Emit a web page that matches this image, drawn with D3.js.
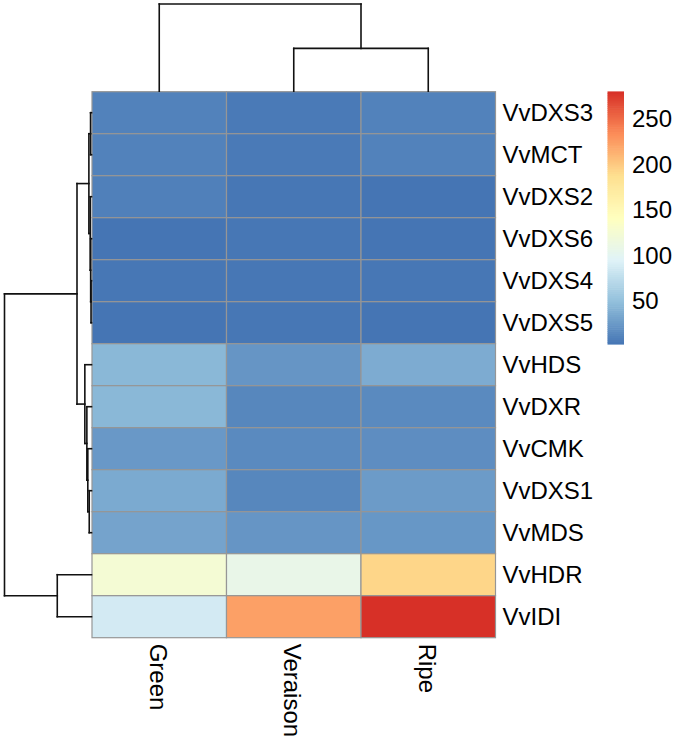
<!DOCTYPE html>
<html>
<head>
<meta charset="utf-8">
<script src="https://cdn.jsdelivr.net/npm/d3@7"></script>
<style>
  html, body { margin: 0; padding: 0; background: #ffffff; }
  svg { display: block; font-family: "Liberation Sans", Arial, Helvetica, sans-serif; }
</style>
</head>
<body>
<svg id="chart" width="675" height="743"></svg>
<script>
// ---------------- DATA ----------------
const columns = ["Green", "Veraison", "Ripe"];
const genes = ["VvDXS3", "VvMCT", "VvDXS2", "VvDXS6", "VvDXS4", "VvDXS5",
               "VvHDS", "VvDXR", "VvCMK", "VvDXS1", "VvMDS", "VvHDR", "VvIDI"];

const greenValues    = [10, 10, 9, 2, 3, 2, 44, 44, 24, 35, 31, 124, 87];
const veraisonValues = [ 5,  5, 3, 3, 3, 3, 22, 13, 15, 13, 22, 108, 223];
const ripeValues     = [10, 10, 2, 2, 3, 2, 36, 15, 17, 26, 23, 193, 280];

// hierarchical clustering merges: [left, right, height]; "#k" = k-th merge
const rowMerges = [
  ["VvDXS3", "VvMCT", 4],
  ["VvDXS4", "VvDXS5", 2],
  ["VvDXS6", "#1", 3.5],
  ["VvDXS2", "#2", 5.5],
  ["#0", "#3", 11],
  ["VvDXS1", "VvMDS", 9.5],
  ["VvCMK", "#5", 15.5],
  ["VvDXR", "#6", 19.5],
  ["VvHDS", "#7", 28],
  ["#4", "#8", 61],
  ["VvHDR", "VvIDI", 144],
  ["#9", "#10", 366]
];
const colMerges = [
  ["Veraison", "Ripe", 160],
  ["Green", "#0", 326]
];

const paletteColors = ["#4575B4", "#91BFDB", "#E0F3F8", "#FFFFBF", "#FEE090", "#FC8D59", "#D73027"];
const legendTicks = [50, 100, 150, 200, 250];

// ---------------- LAYOUT ----------------
const svg = d3.select("#chart");
const heat = { left: 92, right: 495.5, top: 91.7, bottom: 637.7 };
const fontSize = 24;

const x = d3.scaleBand().domain(columns).range([heat.left, heat.right]);
const y = d3.scaleBand().domain(genes).range([heat.top, heat.bottom]);

const seriesByCol = { Green: greenValues, Veraison: veraisonValues, Ripe: ripeValues };
const cells = [];
genes.forEach((g, i) => columns.forEach(c => cells.push({ gene: g, col: c, value: seriesByCol[c][i] })));

const allVals = cells.map(d => d.value);
const vmin = d3.min(allVals), vmax = d3.max(allVals);
const color = d3.scaleLinear()
  .domain(paletteColors.map((_, i) => vmin + i * (vmax - vmin) / (paletteColors.length - 1)))
  .range(paletteColors)
  .interpolate(d3.interpolateRgb);

// cells
svg.append("g").selectAll("rect").data(cells).join("rect")
  .attr("x", d => x(d.col))
  .attr("y", d => y(d.gene))
  .attr("width", x.bandwidth())
  .attr("height", y.bandwidth())
  .attr("fill", d => color(d.value))
  .attr("stroke", "#969696")
  .attr("stroke-width", 1.2);

// row labels
svg.append("g").selectAll("text").data(genes).join("text")
  .attr("x", heat.right + 7)
  .attr("y", d => y(d) + y.bandwidth() / 2)
  .attr("dominant-baseline", "central")
  .attr("font-size", fontSize)
  .attr("fill", "#000")
  .text(d => d);

// column labels (rotated)
svg.append("g").selectAll("text").data(columns).join("text")
  .attr("transform", d => `translate(${x(d) + x.bandwidth() / 2 - 1},${heat.bottom + 6}) rotate(90)`)
  .attr("dominant-baseline", "central")
  .attr("font-size", fontSize)
  .attr("fill", "#000")
  .text(d => d);

// ---------------- DENDROGRAMS ----------------
function buildDendro(merges, leafPos) {
  const nodes = [];
  const segs = [];
  const get = k => k.startsWith("#") ? nodes[+k.slice(1)] : { pos: leafPos(k), h: 0 };
  merges.forEach(([a, b, h]) => {
    const A = get(a), B = get(b);
    segs.push([A.pos, A.h, A.pos, h], [A.pos, h, B.pos, h], [B.pos, h, B.pos, B.h]);
    nodes.push({ pos: (A.pos + B.pos) / 2, h: h });
  });
  return segs;
}

// row dendrogram (left)
const rowH = d3.scaleLinear().domain([0, d3.max(rowMerges, d => d[2])]).range([heat.left - 0.5, 4.5]);
const rowSegs = buildDendro(rowMerges, g => y(g) + y.bandwidth() / 2);
svg.append("g").selectAll("line").data(rowSegs).join("line")
  .attr("x1", d => rowH(d[1])).attr("y1", d => d[0])
  .attr("x2", d => rowH(d[3])).attr("y2", d => d[2])
  .attr("stroke", "#111").attr("stroke-width", 1.6).attr("stroke-linecap", "square");

// column dendrogram (top)
const colH = d3.scaleLinear().domain([0, d3.max(colMerges, d => d[2])]).range([heat.top - 0.5, 4]);
const colSegs = buildDendro(colMerges, c => x(c) + x.bandwidth() / 2);
svg.append("g").selectAll("line").data(colSegs).join("line")
  .attr("x1", d => d[0]).attr("y1", d => colH(d[1]))
  .attr("x2", d => d[2]).attr("y2", d => colH(d[3]))
  .attr("stroke", "#111").attr("stroke-width", 1.6).attr("stroke-linecap", "square");

// ---------------- LEGEND ----------------
const leg = { x: 607.5, w: 16.5, top: 91.7, bottom: 344.3 };
const legY = d3.scaleLinear().domain([vmin, vmax]).range([leg.bottom, leg.top]);
const nSteps = 120;
const stepVals = d3.range(nSteps).map(i => vmin + (i + 0.5) * (vmax - vmin) / nSteps);
const stepH = (leg.bottom - leg.top) / nSteps;
svg.append("g").selectAll("rect").data(stepVals).join("rect")
  .attr("x", leg.x)
  .attr("y", d => legY(d) - stepH / 2 - 0.3)
  .attr("width", leg.w)
  .attr("height", stepH + 0.6)
  .attr("fill", d => color(d));

svg.append("g").selectAll("text").data(legendTicks).join("text")
  .attr("x", leg.x + leg.w + 8)
  .attr("y", d => legY(d))
  .attr("dominant-baseline", "central")
  .attr("font-size", fontSize)
  .attr("fill", "#000")
  .text(d => d);
</script>
</body>
</html>
